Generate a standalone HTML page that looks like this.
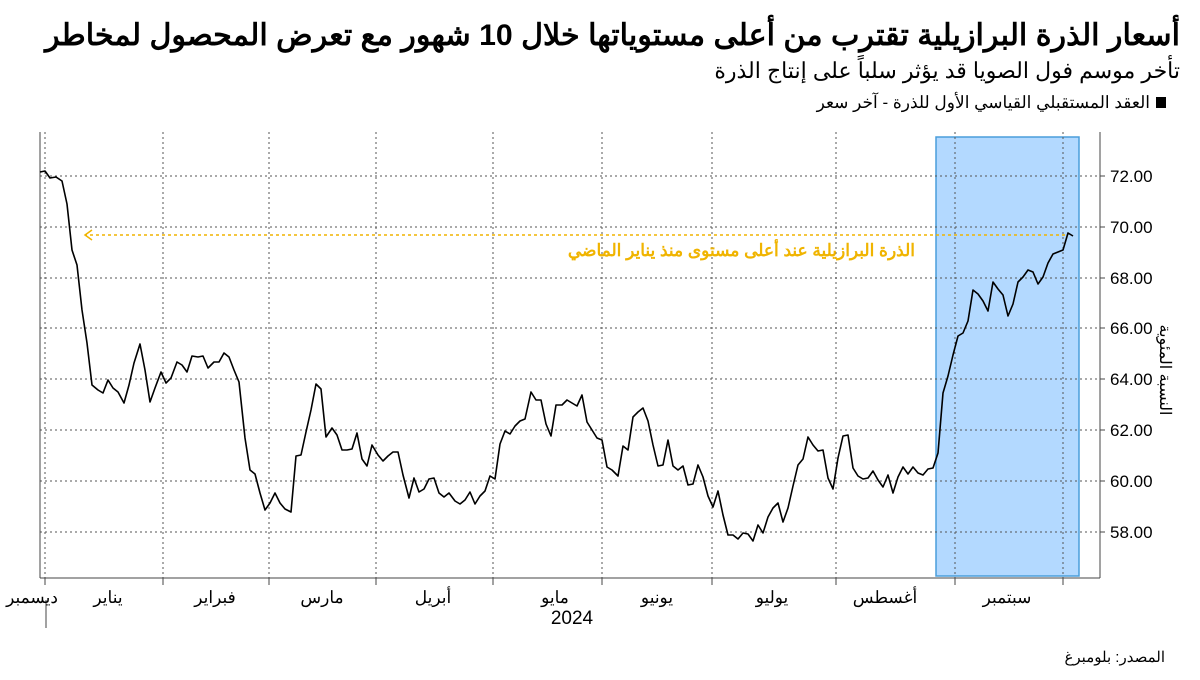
<!DOCTYPE html>
<html><head><meta charset="utf-8"><style>
body{margin:0;background:#fff;width:1200px;height:675px;overflow:hidden;font-family:"Liberation Sans","Noto Sans CJK SC",sans-serif;}
</style></head><body>
<svg width="1200" height="675" xmlns="http://www.w3.org/2000/svg" font-family="Liberation Sans, Noto Sans CJK SC, sans-serif">
<text x="1180" y="45" text-anchor="start" direction="rtl" font-size="30" font-weight="bold" fill="#000" textLength="1135" lengthAdjust="spacingAndGlyphs">أسعار الذرة البرازيلية تقترب من أعلى مستوياتها خلال 10 شهور مع تعرض المحصول لمخاطر</text>
<text x="1180" y="78" text-anchor="start" direction="rtl" font-size="22" fill="#000">تأخر موسم فول الصويا قد يؤثر سلباً على إنتاج الذرة</text>
<rect x="1156" y="97" width="10" height="11" fill="#000"/>
<text x="1150" y="108" text-anchor="start" direction="rtl" font-size="17" fill="#000">العقد المستقبلي القياسي الأول للذرة - آخر سعر</text>
<rect x="936" y="137" width="143" height="439" fill="#b3d9ff" stroke="#4a9edb" stroke-width="1.5"/>
<g stroke="#555" stroke-width="1" stroke-dasharray="2,3">
<line x1="45" y1="132" x2="45" y2="578"/><line x1="163" y1="132" x2="163" y2="578"/><line x1="269" y1="132" x2="269" y2="578"/><line x1="376" y1="132" x2="376" y2="578"/><line x1="493" y1="132" x2="493" y2="578"/><line x1="602" y1="132" x2="602" y2="578"/><line x1="712" y1="132" x2="712" y2="578"/><line x1="836" y1="132" x2="836" y2="578"/><line x1="955" y1="132" x2="955" y2="578"/><line x1="1063" y1="132" x2="1063" y2="578"/>
<line x1="40" y1="176" x2="1100" y2="176"/><line x1="40" y1="227" x2="1100" y2="227"/><line x1="40" y1="278" x2="1100" y2="278"/><line x1="40" y1="328" x2="1100" y2="328"/><line x1="40" y1="379" x2="1100" y2="379"/><line x1="40" y1="430" x2="1100" y2="430"/><line x1="40" y1="481" x2="1100" y2="481"/><line x1="40" y1="532" x2="1100" y2="532"/>
</g>
<g stroke="#444" stroke-width="1">
<line x1="40" y1="132" x2="40" y2="578"/><line x1="1100" y1="132" x2="1100" y2="578"/><line x1="40" y1="578" x2="1100" y2="578"/>
<line x1="45" y1="578" x2="45" y2="585"/><line x1="163" y1="578" x2="163" y2="585"/><line x1="269" y1="578" x2="269" y2="585"/><line x1="376" y1="578" x2="376" y2="585"/><line x1="493" y1="578" x2="493" y2="585"/><line x1="602" y1="578" x2="602" y2="585"/><line x1="712" y1="578" x2="712" y2="585"/><line x1="836" y1="578" x2="836" y2="585"/><line x1="955" y1="578" x2="955" y2="585"/><line x1="1063" y1="578" x2="1063" y2="585"/>
<line x1="46" y1="600" x2="46" y2="628"/>
<line x1="1100" y1="176" x2="1105" y2="176"/><line x1="1100" y1="227" x2="1105" y2="227"/><line x1="1100" y1="278" x2="1105" y2="278"/><line x1="1100" y1="328" x2="1105" y2="328"/><line x1="1100" y1="379" x2="1105" y2="379"/><line x1="1100" y1="430" x2="1105" y2="430"/><line x1="1100" y1="481" x2="1105" y2="481"/><line x1="1100" y1="532" x2="1105" y2="532"/>
</g>
<g font-size="17" fill="#000">
<text x="1110" y="182">72.00</text><text x="1110" y="233">70.00</text><text x="1110" y="284">68.00</text><text x="1110" y="334">66.00</text><text x="1110" y="385">64.00</text><text x="1110" y="436">62.00</text><text x="1110" y="487">60.00</text><text x="1110" y="538">58.00</text>
</g>
<text transform="translate(1160,370) rotate(90)" text-anchor="middle" direction="rtl" font-size="16" fill="#000">النسبة المئوية</text>
<g font-size="17" fill="#000" text-anchor="middle" direction="rtl">
<text x="32" y="603">ديسمبر</text><text x="108" y="603">يناير</text><text x="215" y="603">فبراير</text><text x="322" y="603">مارس</text><text x="433" y="603">أبريل</text><text x="555" y="603">مايو</text><text x="657" y="603">يونيو</text><text x="772" y="603">يوليو</text><text x="885" y="603">أغسطس</text><text x="1007" y="603">سبتمبر</text>
</g>
<text x="572" y="624" text-anchor="middle" font-size="19" fill="#000">2024</text>
<line x1="1065" y1="235" x2="86" y2="235" stroke="#f0b400" stroke-width="1.5" stroke-dasharray="3,3"/>
<polyline points="92,230 85,235 92,240" fill="none" stroke="#f0b400" stroke-width="1.5"/>
<text x="915" y="256" text-anchor="start" direction="rtl" font-size="17" font-weight="bold" fill="#f0b400">الذرة البرازيلية عند أعلى مستوى منذ يناير الماضي</text>
<polyline fill="none" stroke="#000" stroke-width="1.6" stroke-linejoin="round" points="40,172 45,171 50,178 56,177 62,181 67,204 72,250 77,265 82,310 87,343 92,385 98,390 103,393 108,380 113,388 118,392 124,403 129,385 134,363 140,344 145,370 150,402 155,388 161,372 166,383 171,378 177,362 182,365 187,372 192,356 198,357 203,356 208,368 214,362 219,362 224,353 229,357 234,370 239,382 245,438 250,470 255,474 260,493 265,510 270,503 275,493 280,503 285,509 291,512 296,456 301,455 306,432 311,410 316,384 321,389 326,437 332,428 337,435 342,450 347,450 352,449 357,433 362,459 367,466 372,445 378,455 383,461 388,456 393,452 398,452 403,475 409,498 414,478 419,492 424,489 429,479 434,478 439,493 444,497 449,493 455,501 460,504 465,500 470,492 475,504 480,496 485,491 490,476 495,479 500,444 505,431 510,434 515,426 520,421 525,419 531,392 536,400 541,400 546,424 551,436 556,405 562,405 567,400 572,403 577,406 582,395 587,422 592,430 597,438 602,440 607,467 612,470 618,476 623,446 628,450 633,417 638,412 643,408 648,421 653,445 658,466 663,465 668,440 673,466 678,470 683,466 688,485 693,484 698,465 703,477 708,496 713,507 718,491 723,515 728,535 733,535 738,539 743,533 748,534 753,541 758,525 763,533 768,517 773,508 778,503 783,522 788,508 793,486 798,465 803,459 808,437 813,445 818,451 823,450 828,478 833,489 838,458 843,436 848,435 853,468 858,476 863,479 868,478 873,471 878,480 883,487 888,475 893,493 898,477 903,467 908,474 913,467 918,473 923,475 928,469 933,468 938,453 943,393 948,376 953,355 958,336 963,333 968,321 973,290 978,294 983,301 988,311 993,282 998,289 1003,295 1008,316 1013,304 1018,282 1023,277 1028,270 1033,272 1038,284 1043,277 1048,263 1053,254 1058,252 1063,250 1068,233 1073,236"/>
<text x="1165" y="662" text-anchor="start" direction="rtl" font-size="15" fill="#000">المصدر: بلومبرغ</text>
</svg>
</body></html>
